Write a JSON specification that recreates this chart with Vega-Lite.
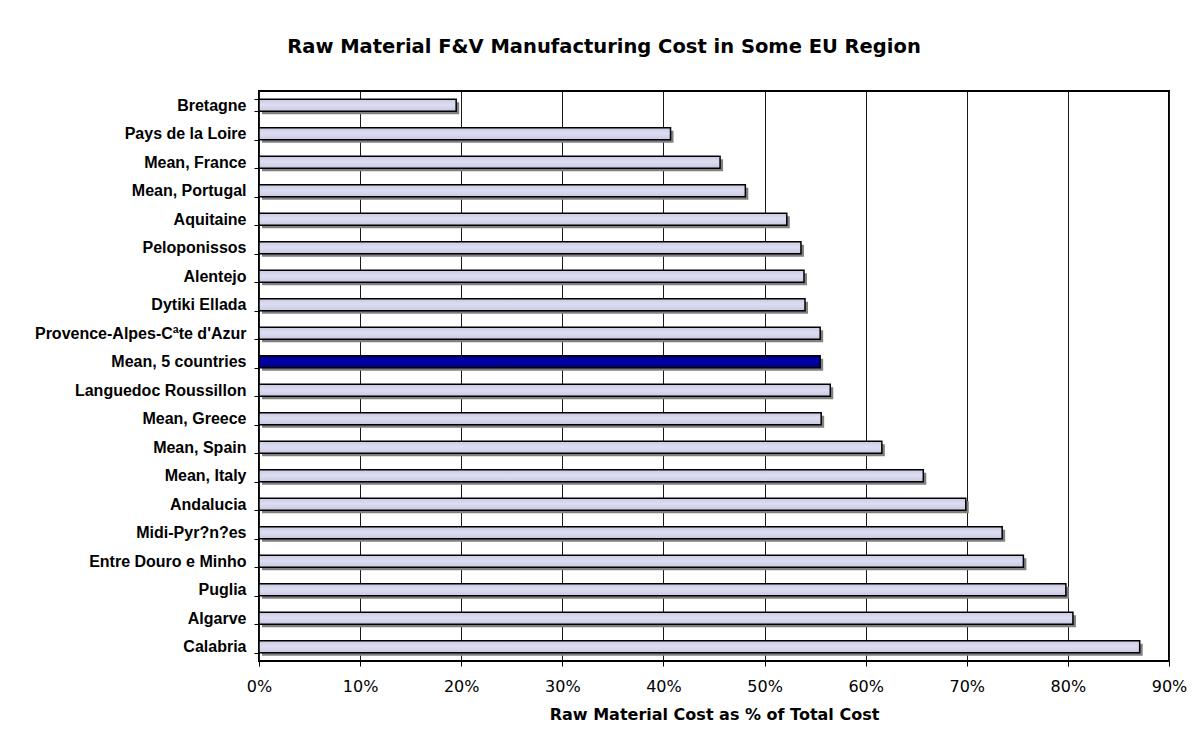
{
  "$schema": "https://vega.github.io/schema/vega-lite/v6.json",
  "width": 910,
  "height": 570,
  "autosize": {"type": "none"},
  "padding": {"left": 259, "top": 91, "right": 24, "bottom": 72},
  "background": "#ffffff",
  "title": {
    "text": "Raw Material F&V Manufacturing Cost in Some EU Region",
    "font": "DejaVu Sans",
    "fontSize": 19.5,
    "fontWeight": "bold",
    "color": "#000000",
    "anchor": "middle",
    "frame": "group",
    "baseline": "alphabetic",
    "offset": 11,
    "dx": -110
  },
  "data": {
    "values": [
      {"region": "Bretagne", "cost": 19.5},
      {"region": "Pays de la Loire", "cost": 40.7},
      {"region": "Mean, France", "cost": 45.6},
      {"region": "Mean, Portugal", "cost": 48.1},
      {"region": "Aquitaine", "cost": 52.2},
      {"region": "Peloponissos", "cost": 53.6},
      {"region": "Alentejo", "cost": 53.9},
      {"region": "Dytiki Ellada", "cost": 54.0},
      {"region": "Provence-Alpes-Cªte d'Azur", "cost": 55.5},
      {"region": "Mean, 5 countries", "cost": 55.5},
      {"region": "Languedoc Roussillon", "cost": 56.5},
      {"region": "Mean, Greece", "cost": 55.6},
      {"region": "Mean, Spain", "cost": 61.6},
      {"region": "Mean, Italy", "cost": 65.7},
      {"region": "Andalucia", "cost": 69.9},
      {"region": "Midi-Pyr?n?es", "cost": 73.5},
      {"region": "Entre Douro e Minho", "cost": 75.6},
      {"region": "Puglia", "cost": 79.8},
      {"region": "Algarve", "cost": 80.5},
      {"region": "Calabria", "cost": 87.1}
    ]
  },
  "encoding": {
    "y": {
      "field": "region",
      "type": "nominal",
      "sort": null,
      "scale": {"paddingInner": 0.58, "paddingOuter": 0.29},
      "axis": {
        "title": null,
        "domain": false,
        "grid": false,
        "tickBand": "extent",
        "ticks": true,
        "tickSize": 5,
        "tickColor": "#000000",
        "tickWidth": 1,
        "labelFont": "Liberation Sans",
        "labelFontSize": 16,
        "labelFontWeight": "bold",
        "labelColor": "#000000",
        "labelPadding": 8,
        "labelLimit": 400
      }
    },
    "x": {
      "field": "cost",
      "type": "quantitative",
      "scale": {"domain": [0, 90], "nice": false},
      "axis": {
        "title": "Raw Material Cost as % of Total Cost",
        "titleFont": "DejaVu Sans",
        "titleFontSize": 16,
        "titleFontWeight": "bold",
        "titleColor": "#000000",
        "titlePadding": 12,
        "values": [0, 10, 20, 30, 40, 50, 60, 70, 80, 90],
        "labelExpr": "datum.value + '%'",
        "labelFont": "DejaVu Sans",
        "labelFontSize": 16,
        "labelColor": "#000000",
        "labelPadding": 12,
        "labelFlush": false,
        "domain": false,
        "ticks": true,
        "tickSize": 5,
        "tickColor": "#000000",
        "grid": true,
        "gridColor": "#1a1a1a",
        "gridWidth": 1
      }
    }
  },
  "layer": [
    {
      "mark": {
        "type": "bar",
        "fill": "#808080",
        "xOffset": 3,
        "x2Offset": 3,
        "yOffset": 3,
        "y2Offset": 3
      }
    },
    {
      "mark": {"type": "bar", "stroke": "#000000", "strokeWidth": 1.5},
      "encoding": {
        "fill": {
          "condition": {
            "test": "datum.region === 'Mean, 5 countries'",
            "value": {
              "gradient": "linear",
              "x1": 0, "y1": 0, "x2": 0, "y2": 1,
              "stops": [
                {"offset": 0, "color": "#00006e"},
                {"offset": 0.45, "color": "#0000b4"},
                {"offset": 1, "color": "#00006e"}
              ]
            }
          },
          "value": {
            "gradient": "linear",
            "x1": 0, "y1": 0, "x2": 0, "y2": 1,
            "stops": [
              {"offset": 0, "color": "#c8c8e4"},
              {"offset": 0.45, "color": "#dedef1"},
              {"offset": 1, "color": "#c8c8e4"}
            ]
          }
        }
      }
    }
  ],
  "config": {
    "view": {"stroke": "#000000", "strokeWidth": 2}
  }
}
